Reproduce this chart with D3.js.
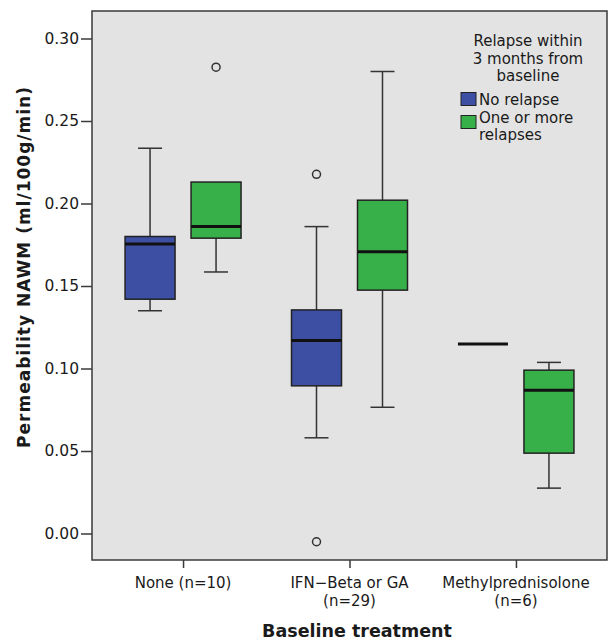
<!DOCTYPE html>
<html lang="en">
<head>
<meta charset="utf-8">
<title>Permeability NAWM by baseline treatment</title>
<script src="https://cdn.jsdelivr.net/npm/d3@7"></script>
<style>
  body { margin: 0; background: #fff; }
  text { font-family: "DejaVu Sans", sans-serif; fill: #1a1a1a; }
</style>
</head>
<body>
<div id="chart"></div>
<script>
// categories on the x axis (label lines)
var treatments = ["None", "IFN", "Methyl"];
var treatmentLabels = [["None (n=10)"], ["IFN\u2212Beta or GA", "(n=29)"], ["Methylprednisolone", "(n=6)"]];
var groups = ["No relapse", "One or more relapses"];
var groupColors = ["#3c4fa3", "#38b04a"];

// box stats per group: [whiskerLow, q1, median, q3, whiskerHigh]
var noRelapse = [
  [0.135, 0.142, 0.1755, 0.180, 0.2335],
  [0.058, 0.0895, 0.117, 0.1355, 0.186],
  [0.1148, 0.1148, 0.1148, 0.1148, 0.1148]
];
var relapse = [
  [0.1585, 0.179, 0.186, 0.213, 0.213],
  [0.0765, 0.1475, 0.1708, 0.202, 0.280],
  [0.0275, 0.0487, 0.0868, 0.099, 0.1037]
];
// outliers: [treatment index, group index, value]
var outliers = [
  [0, 1, 0.2826],
  [1, 0, 0.2177],
  [1, 0, -0.005]
];
var yTicks = [0.00, 0.05, 0.10, 0.15, 0.20, 0.25, 0.30];

var w = 609, h = 640;
var padLeft = 92, padRight = 607, padTop = 11, padBottom = 560;

var svg = d3.select("#chart").append("svg")
  .attr("width", w).attr("height", h);

var yScale = d3.scaleLinear()
  .domain([0, 0.30])
  .range([533.5, 38.5]);

var xScale = d3.scalePoint()
  .domain(treatments)
  .range([padLeft, padRight])
  .padding(0.547);

var offset = d3.scalePoint()
  .domain([0, 1])
  .range([-33, 33]);

var boxW = 50;

svg.append("rect")
  .attr("x", padLeft).attr("y", padTop)
  .attr("width", padRight - padLeft).attr("height", padBottom - padTop)
  .attr("fill", "#e3e3e3")
  .attr("stroke", "#3a3a3a")
  .attr("stroke-width", 1.5);

// y axis
var yAxis = d3.axisLeft(yScale)
  .tickValues(yTicks)
  .tickFormat(d3.format(".2f"))
  .tickSize(11)
  .tickPadding(2);
var gy = svg.append("g")
  .attr("transform", "translate(" + padLeft + ",0)")
  .call(yAxis);
gy.select(".domain").remove();
gy.selectAll("line").attr("stroke", "#3a3a3a").attr("stroke-width", 1.5);
gy.selectAll("text").style("font-size", "15.5px").attr("fill", "#1a1a1a");

// x axis
var xAxis = d3.axisBottom(xScale).tickSize(8).tickFormat("");
var gx = svg.append("g")
  .attr("transform", "translate(0," + padBottom + ")")
  .call(xAxis);
gx.select(".domain").remove();
gx.selectAll("line").attr("stroke", "#3a3a3a").attr("stroke-width", 1.5);

treatments.forEach(function(t, i) {
  treatmentLabels[i].forEach(function(line, j) {
    svg.append("text")
      .attr("x", xScale(t))
      .attr("y", 588 + j * 17.5)
      .attr("text-anchor", "middle")
      .style("font-size", "15px")
      .text(line);
  });
});

// boxes
var boxes = [];
treatments.forEach(function(t, i) {
  boxes.push({t: t, g: 0, s: noRelapse[i]});
  boxes.push({t: t, g: 1, s: relapse[i]});
});

var bg = svg.selectAll("g.box")
  .data(boxes)
  .enter().append("g")
  .attr("class", "box")
  .attr("transform", function(d) { return "translate(" + (xScale(d.t) + offset(d.g)) + ",0)"; });

var lineColor = "#333";

bg.each(function(d) {
  var g = d3.select(this);
  var s = d.s;
  var flat = s[1] === s[3];
  if (!flat) {
    // whiskers
    if (s[4] > s[3]) {
      g.append("line").attr("x1", 0).attr("x2", 0)
        .attr("y1", yScale(s[3])).attr("y2", yScale(s[4]))
        .attr("stroke", lineColor).attr("stroke-width", 1.5);
      g.append("line").attr("x1", -12).attr("x2", 12)
        .attr("y1", yScale(s[4])).attr("y2", yScale(s[4]))
        .attr("stroke", lineColor).attr("stroke-width", 1.5);
    }
    if (s[0] < s[1]) {
      g.append("line").attr("x1", 0).attr("x2", 0)
        .attr("y1", yScale(s[1])).attr("y2", yScale(s[0]))
        .attr("stroke", lineColor).attr("stroke-width", 1.5);
      g.append("line").attr("x1", -12).attr("x2", 12)
        .attr("y1", yScale(s[0])).attr("y2", yScale(s[0]))
        .attr("stroke", lineColor).attr("stroke-width", 1.5);
    }
    g.append("rect")
      .attr("x", -boxW / 2).attr("width", boxW)
      .attr("y", yScale(s[3]))
      .attr("height", yScale(s[1]) - yScale(s[3]))
      .attr("fill", groupColors[d.g])
      .attr("stroke", "#222").attr("stroke-width", 1.5);
  }
  g.append("line")
    .attr("x1", -boxW / 2).attr("x2", boxW / 2)
    .attr("y1", yScale(s[2])).attr("y2", yScale(s[2]))
    .attr("stroke", "#111").attr("stroke-width", 3);
});

// outliers
svg.selectAll("circle.out")
  .data(outliers)
  .enter().append("circle")
  .attr("class", "out")
  .attr("cx", function(d) { return xScale(treatments[d[0]]) + offset(d[1]); })
  .attr("cy", function(d) { return yScale(d[2]); })
  .attr("r", 4)
  .attr("fill", "none")
  .attr("stroke", "#333")
  .attr("stroke-width", 1.5);

// axis titles
svg.append("text")
  .attr("transform", "translate(30,267) rotate(-90)")
  .attr("text-anchor", "middle")
  .style("font-size", "17px")
  .style("font-weight", "bold")
  .style("letter-spacing", "1px")
  .text("Permeability NAWM (ml/100g/min)");

svg.append("text")
  .attr("x", 357).attr("y", 637)
  .attr("text-anchor", "middle")
  .style("font-size", "17.5px")
  .style("font-weight", "bold")
  .text("Baseline treatment");

// legend
var legendTitle = ["Relapse within", "3 months from", "baseline"];
svg.selectAll("text.ltitle")
  .data(legendTitle)
  .enter().append("text")
  .attr("class", "ltitle")
  .attr("x", 528)
  .attr("y", function(d, i) { return 46 + i * 17.5; })
  .attr("text-anchor", "middle")
  .style("font-size", "15px")
  .text(function(d) { return d; });

var legendLabels = [["No relapse"], ["One or more", "relapses"]];
var lg = svg.selectAll("g.leg")
  .data(groups)
  .enter().append("g")
  .attr("class", "leg")
  .attr("transform", function(d, i) { return "translate(461," + (92.5 + i * 23) + ")"; });
lg.append("rect")
  .attr("width", 15).attr("height", 13)
  .attr("fill", function(d, i) { return groupColors[i]; })
  .attr("stroke", "#222").attr("stroke-width", 1);
lg.each(function(d, i) {
  var g = d3.select(this);
  legendLabels[i].forEach(function(line, j) {
    g.append("text")
      .attr("x", 18)
      .attr("y", (i === 0 ? 12 : 7) + j * 17.5)
      .style("font-size", "15px")
      .text(line);
  });
});
</script>
</body>
</html>
